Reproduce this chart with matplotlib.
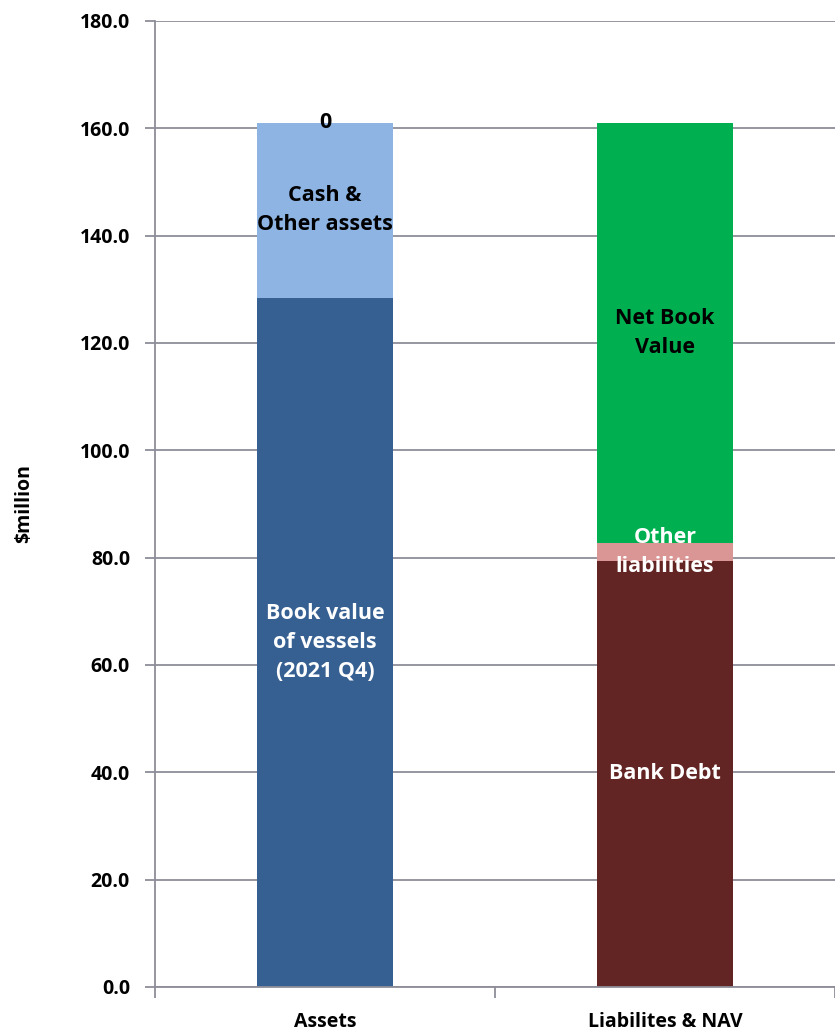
import matplotlib.pyplot as plt

categories = ['Assets', 'Liabilites & NAV']

# stacked segments, bottom to top ($million)
asset_labels = ['Book value\nof vessels\n(2021 Q4)', 'Cash &\nOther assets', '0']
asset_values = [128.4, 32.6, 0.0]
asset_colors = ['#376092', '#8EB4E3', '#8EB4E3']
asset_text = ['white', 'black', 'black']

liab_labels = ['Bank Debt', 'Other\nliabilities', 'Net Book\nValue']
liab_values = [79.4, 3.3, 78.3]
liab_colors = ['#632523', '#D99694', '#00B050']
liab_text = ['white', 'white', 'black']

plt.rcParams['font.family'] = ['Open Sans', 'DejaVu Sans']
plt.rcParams['font.weight'] = 'bold'
fs = 14
fs_in = 15.5

fig = plt.figure(figsize=(8.35, 10.33), dpi=100)
ax = fig.add_axes([155 / 835, 1 - 987 / 1033, 680 / 835, 966 / 1033])

width = 0.4
for x, values, colors, labels, tcolors in [
        (0, asset_values, asset_colors, asset_labels, asset_text),
        (1, liab_values, liab_colors, liab_labels, liab_text)]:
    bottom = 0
    for v, c, lab, tc in zip(values, colors, labels, tcolors):
        ax.bar(x, v, width, bottom=bottom, color=c, zorder=2)
        ax.text(x, bottom + v / 2, lab, ha='center', va='center', color=tc,
                fontsize=fs_in, fontweight='bold', linespacing=1.5, zorder=3)
        bottom += v

ax.set_xlim(-0.5, 1.5)
ax.set_ylim(0, 180)
ax.set_yticks(range(0, 181, 20))
ax.set_yticklabels([f'{t:.1f}' for t in range(0, 181, 20)], fontsize=fs, fontweight='bold')
ax.yaxis.grid(True, color='#8E8E9A', linewidth=1.3, zorder=0)
ax.set_axisbelow(True)

ax.set_xticks([-0.5, 0.5, 1.5])
ax.set_xticklabels([])
ax.set_xticks([0, 1], minor=True)
ax.set_xticklabels(categories, minor=True, fontsize=fs, fontweight='bold')
ax.tick_params(axis='x', which='minor', length=0, pad=18)
ax.tick_params(axis='x', which='major', length=8, color='#8E8E9A', width=1.3)
ax.tick_params(axis='y', length=7, color='#8E8E9A', width=1.3, pad=11)

for s in ['top', 'right']:
    ax.spines[s].set_visible(False)
for s in ['left', 'bottom']:
    ax.spines[s].set_color('#8E8E9A')
    ax.spines[s].set_linewidth(1.3)

ax.set_ylabel('$million', fontsize=fs, fontweight='bold')
ax.yaxis.set_label_coords(-0.178, 0.5)

fig.savefig('out.png', dpi=100)
